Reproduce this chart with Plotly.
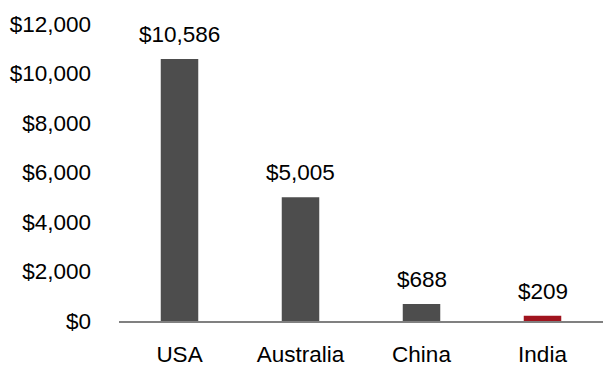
import plotly.graph_objects as go

categories = ["USA", "Australia", "China", "India"]
values = [10586, 5005, 688, 209]
bar_colors = ["#4d4d4d", "#4d4d4d", "#4d4d4d", "#a0141e"]
label_texts = ["$10,586", "$5,005", "$688", "$209"]
y_tick_vals = [0, 2000, 4000, 6000, 8000, 10000, 12000]
y_tick_text = ["$0", "$2,000", "$4,000", "$6,000", "$8,000", "$10,000", "$12,000"]

FONT = "Liberation Sans, Arial, sans-serif"
FS = 22.5

fig = go.Figure(
    go.Bar(
        x=categories,
        y=values,
        marker=dict(color=bar_colors, line=dict(width=0)),
        width=0.31,
        hoverinfo="x+y",
    )
)

for cat, val, txt in zip(categories, values, label_texts):
    fig.add_annotation(
        x=cat,
        y=val,
        text=txt,
        showarrow=False,
        xanchor="center",
        yanchor="bottom",
        yshift=10,
        font=dict(family=FONT, size=FS, color="#000000"),
    )

fig.update_layout(
    width=603,
    height=367,
    margin=dict(l=119, r=0, t=24, b=46),
    paper_bgcolor="white",
    plot_bgcolor="white",
    showlegend=False,
    font=dict(family=FONT, size=FS, color="#000000"),
)
fig.update_xaxes(
    automargin=False,
    showline=True,
    linecolor="#808080",
    linewidth=1.5,
    showgrid=False,
    ticks="",
    ticklabelstandoff=12,
    tickfont=dict(family=FONT, size=FS, color="#000000"),
)
fig.update_yaxes(
    automargin=False,
    range=[0, 12000],
    tickvals=y_tick_vals,
    ticktext=y_tick_text,
    showgrid=False,
    zeroline=False,
    showline=False,
    ticks="",
    ticklabelstandoff=27,
    tickfont=dict(family=FONT, size=FS, color="#000000"),
)

fig.write_html("out.html")
